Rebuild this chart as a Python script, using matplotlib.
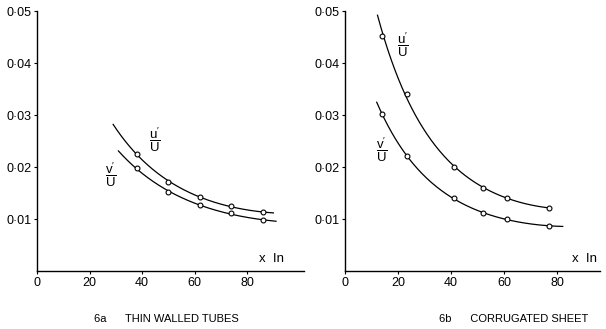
import matplotlib.pyplot as plt
import numpy as np

# Fig 6a - thin walled tubes
a_x = [38, 50, 62, 74, 86]
a_u = [0.0226, 0.0171, 0.0143, 0.0125, 0.0113]
a_v = [0.0198, 0.0152, 0.0127, 0.0111, 0.0098]
a_u_span = (29, 90)
a_v_span = (31, 91)

# Fig 6b - corrugated sheet
b_x = [14, 23.5, 41, 52, 61, 77]
b_u = [0.0453, 0.0341, 0.0201, 0.0160, 0.0140, 0.0122]
b_v = [0.0302, 0.0221, 0.0140, 0.0111, 0.0100, 0.0087]
b_u_span = (12.3, 77)
b_v_span = (12, 82)

yticks = [0.01, 0.02, 0.03, 0.04, 0.05]
ytick_labels = ["0·01", "0·02", "0·03", "0·04", "0·05"]
xticks = [0, 20, 40, 60, 80]

plt.rcParams['font.family'] = 'Liberation Sans'
plt.rcParams['mathtext.fontset'] = 'custom'
plt.rcParams['mathtext.sf'] = 'Liberation Sans'
fig = plt.figure(figsize=(6.06, 3.29), dpi=100)


def fitted(ax, x, y, span):
    # smooth curve through the points (quadratic fit of log y)
    c = np.polyfit(x, np.log(y), 2)
    xs = np.linspace(span[0], span[1], 200)
    ax.plot(xs, np.exp(np.polyval(c, xs)), color='k', lw=0.9)
    ax.plot(x, y, 'o', mfc='white', mec='k', ms=3.5, mew=0.8)


def style(ax, xmax, xin, xcap, caption):
    ax.set_xlim(0, xmax)
    ax.set_ylim(0, 0.05)
    for s in ['top', 'right']:
        ax.spines[s].set_visible(False)
    for s in ['left', 'bottom']:
        ax.spines[s].set_linewidth(1.0)
    ax.set_yticks(yticks)
    ax.set_yticklabels(ytick_labels)
    ax.set_xticks(xticks)
    ax.tick_params(labelsize=9, length=2, width=0.8, pad=2)
    ax.text(xin, 0.046, "x  In", transform=ax.transAxes, ha='center',
            va='center', fontsize=9.5)
    ax.text(xcap, -0.165, caption, transform=ax.transAxes, ha='center',
            va='top', fontsize=8)


def frac(ax, x, y, num):
    ax.text(x, y, r"$\mathsf{\dfrac{%s'}{U}}$" % num, fontsize=9.5,
            ha='center', va='center')


ax1 = fig.add_axes([0.061, 0.176, 0.44, 0.790])
fitted(ax1, a_x, a_u, a_u_span)
fitted(ax1, a_x, a_v, a_v_span)
style(ax1, 101.5, 0.88, 0.485, "6a      THIN WALLED TUBES")
frac(ax1, 45, 0.0252, 'u')
frac(ax1, 28, 0.0185, 'v')

ax2 = fig.add_axes([0.569, 0.176, 0.421, 0.790])
fitted(ax2, b_x, b_u, b_u_span)
fitted(ax2, b_x, b_v, b_v_span)
style(ax2, 96, 0.94, 0.66, "6b      CORRUGATED SHEET")
frac(ax2, 22, 0.0435, 'u')
frac(ax2, 14, 0.0233, 'v')

fig.savefig("out.png", dpi=100)
